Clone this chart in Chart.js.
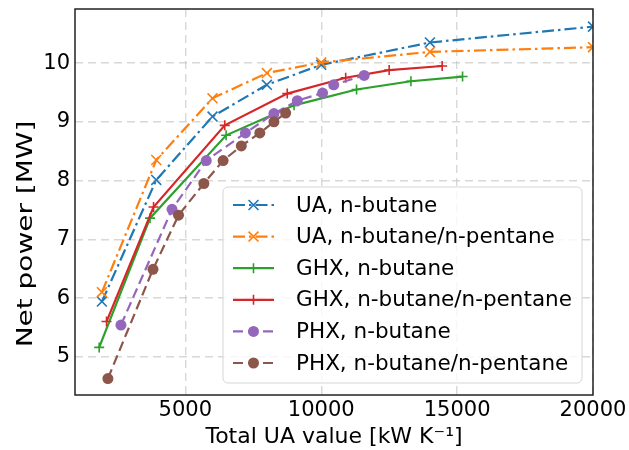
<!DOCTYPE html>
<html>
<head>
<meta charset="utf-8">
<script src="https://cdn.jsdelivr.net/npm/chart.js@4/dist/chart.umd.min.js"></script>
<style>
  html, body { margin: 0; padding: 0; background: #fff; }
  #wrap { width: 629px; height: 450px; }
</style>
</head>
<body>
<div id="wrap"><canvas id="c" width="629" height="450"></canvas></div>
<script>
// values
const uaX = [1930, 3930, 6000, 8000, 10000, 14000, 20000];
const uaButane = [5.94, 8.01, 9.09, 9.63, 9.97, 10.35, 10.62];
const uaMix = [6.10, 8.35, 9.40, 9.83, 10.01, 10.19, 10.27];
const ghxButaneX = [1830, 3700, 6500, 9000, 11300, 13300, 15200];
const ghxButane = [5.16, 7.36, 8.77, 9.28, 9.55, 9.69, 9.77];
const ghxMixX = [2100, 3830, 6450, 8750, 10900, 12500, 14450];
const ghxMix = [5.60, 7.55, 8.94, 9.48, 9.75, 9.88, 9.95];
const phxButaneX = [2630, 4510, 5770, 7210, 8260, 9120, 10050, 10460, 11580];
const phxButane = [5.54, 7.51, 8.34, 8.81, 9.14, 9.36, 9.49, 9.63, 9.79];
const phxMixX = [2150, 3810, 4750, 5680, 6390, 7060, 7740, 8260, 8690];
const phxMix = [4.63, 6.49, 7.41, 7.95, 8.34, 8.59, 8.81, 9.00, 9.15];

const xTicks = [5000, 10000, 15000, 20000];
const yTicks = [5, 6, 7, 8, 9, 10];
const yTitle = "Net power [MW]";

const FONT = "'DejaVu Sans', sans-serif";
const pts = (xs, ys) => xs.map((x, i) => ({ x, y: ys[i] }));

const DASHDOT = [12, 4, 2.5, 4];
const DASHED = [10, 5];

function series(label, xs, ys, color, dash, marker, radius) {
  return {
    label,
    data: pts(xs, ys),
    borderColor: color,
    backgroundColor: color,
    borderWidth: 2.2,
    borderDash: dash,
    pointStyle: marker,
    pointRadius: radius,
    pointBorderWidth: marker === "circle" ? 0 : 1.6,
    pointBorderColor: color,
    pointBackgroundColor: color,
    tension: 0,
    fill: false,
  };
}

const datasets = [
  series("UA, n-butane", uaX, uaButane, "#1f77b4", DASHDOT, "crossRot", 7),
  series("UA, n-butane/n-pentane", uaX, uaMix, "#ff7f0e", DASHDOT, "crossRot", 7),
  series("GHX, n-butane", ghxButaneX, ghxButane, "#2ca02c", [], "cross", 5),
  series("GHX, n-butane/n-pentane", ghxMixX, ghxMix, "#d62728", [], "cross", 5),
  series("PHX, n-butane", phxButaneX, phxButane, "#9467bd", DASHED, "circle", 5.5),
  series("PHX, n-butane/n-pentane", phxMixX, phxMix, "#8c564b", DASHED, "circle", 5.5),
];
// later series on top, like matplotlib
datasets.forEach((d, i) => { d.order = datasets.length - 1 - i; });

// frame, y title and matplotlib-like legend box inside the axes
const mplLegend = {
  id: "mplLegend",
  afterDraw(chart) {
    const { ctx, chartArea: a } = chart;
    ctx.save();
    ctx.strokeStyle = "#222";
    ctx.lineWidth = 1.5;
    ctx.setLineDash([]);
    ctx.strokeRect(a.left, a.top, a.right - a.left, a.bottom - a.top);

    // y title (reference text is drawn stretched along its length)
    ctx.save();
    ctx.translate(26, 234);
    ctx.rotate(-Math.PI / 2);
    ctx.scale(1.27, 1);
    ctx.font = "22px " + FONT;
    ctx.fillStyle = "#000";
    ctx.textAlign = "center";
    ctx.textBaseline = "middle";
    ctx.fillText(yTitle, 0, 0);
    ctx.restore();

    const bx = 223, by = 187, bw = 359, bh = 196, r = 5;
    ctx.beginPath();
    ctx.moveTo(bx + r, by);
    ctx.arcTo(bx + bw, by, bx + bw, by + bh, r);
    ctx.arcTo(bx + bw, by + bh, bx, by + bh, r);
    ctx.arcTo(bx, by + bh, bx, by, r);
    ctx.arcTo(bx, by, bx + bw, by, r);
    ctx.closePath();
    ctx.fillStyle = "rgba(255,255,255,0.8)";
    ctx.fill();
    ctx.strokeStyle = "#d5d5d5";
    ctx.lineWidth = 1;
    ctx.stroke();

    ctx.font = "21.5px " + FONT;
    ctx.textBaseline = "middle";
    ctx.textAlign = "left";
    chart.data.datasets.forEach((d, i) => {
      const y = 205 + i * 31.6;
      ctx.strokeStyle = d.borderColor;
      ctx.lineWidth = d.borderWidth;
      ctx.setLineDash(d.borderDash);
      ctx.beginPath();
      ctx.moveTo(233, y);
      ctx.lineTo(274, y);
      ctx.stroke();
      ctx.setLineDash([]);
      ctx.fillStyle = d.borderColor;
      ctx.strokeStyle = d.borderColor;
      ctx.lineWidth = d.pointBorderWidth;
      Chart.helpers.drawPoint(ctx, {
        pointStyle: d.pointStyle,
        radius: d.pointRadius,
        borderWidth: d.pointBorderWidth,
        rotation: 0,
      }, 253.5, y);
      ctx.fillStyle = "#000";
      ctx.fillText(d.label, 296, y + 1);
    });
    ctx.restore();
  },
};

new Chart(document.getElementById("c"), {
  type: "line",
  data: { datasets },
  plugins: [mplLegend],
  options: {
    responsive: false,
    devicePixelRatio: 1,
    animation: false,
    layout: { padding: { left: 0, right: 36, top: 9, bottom: 0 } },
    plugins: { legend: { display: false }, tooltip: { enabled: false } },
    scales: {
      x: {
        type: "linear",
        min: 940,
        max: 20000,
        afterFit: (s) => { s.height = 55; s.paddingLeft = 0; s.paddingRight = 0; },
        afterBuildTicks: (s) => { s.ticks = xTicks.map((v) => ({ value: v })); },
        ticks: { color: "#000", font: { family: FONT, size: 21 }, padding: 3, maxRotation: 0,
                 callback: (v) => String(v) },
        grid: { color: "rgba(190,190,190,0.6)", lineWidth: 1.4, drawTicks: false },
        border: { display: false, dash: [8, 5] },
        title: { display: true, text: "Total UA value [kW K\u207B\u00B9]", color: "#000",
                 font: { family: FONT, size: 22 }, padding: { top: 0, bottom: 0 } },
      },
      y: {
        type: "linear",
        min: 4.35,
        max: 10.92,
        afterFit: (s) => { s.width = 75; s.paddingTop = 0; s.paddingBottom = 0; },
        afterBuildTicks: (s) => { s.ticks = yTicks.map((v) => ({ value: v })); },
        ticks: { color: "#000", font: { family: FONT, size: 21 }, padding: 5,
                 callback: (v) => String(v) },
        grid: { color: "rgba(190,190,190,0.6)", lineWidth: 1.4, drawTicks: false },
        border: { display: false, dash: [8, 5] },
      },
    },
  },
});
</script>
</body>
</html>
